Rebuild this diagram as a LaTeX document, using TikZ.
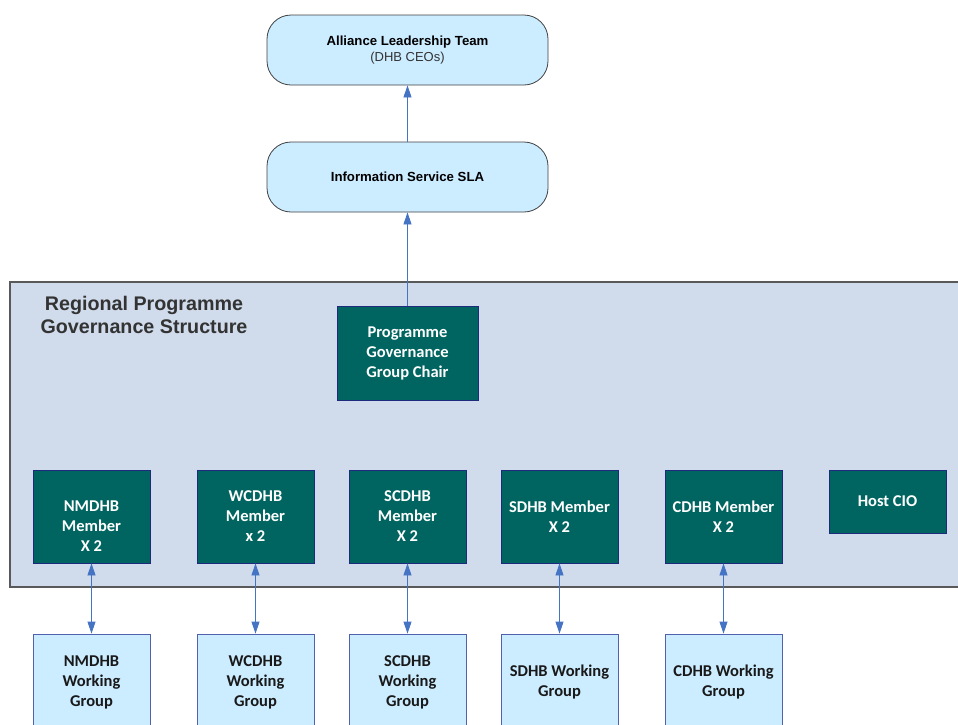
\documentclass[tikz,border=0pt]{standalone}
\usepackage{fontspec}
\setmainfont{Carlito}
\newfontfamily\arialfont{Liberation Sans}
\usetikzlibrary{arrows.meta}
\definecolor{govteal}{RGB}{0,101,96}
\definecolor{lightbox}{RGB}{204,236,255}
\definecolor{regionbg}{RGB}{208,219,236}
\definecolor{linkblue}{RGB}{70,116,196}
\definecolor{navyedge}{RGB}{30,42,125}
\definecolor{wgedge}{RGB}{82,96,176}
\begin{document}
\begin{tikzpicture}[x=1pt,y=-1pt,
    topbox/.style={draw=black!75,fill=lightbox,rounded corners=24pt,line width=0.8pt,
      minimum width=281pt,minimum height=70pt,align=center,font=\arialfont\fontsize{13.2}{16}\selectfont\bfseries},
    member/.style={draw=navyedge,fill=govteal,text=white,line width=0.8pt,inner sep=0pt,
      minimum width=117pt,minimum height=93pt,align=center,font=\fontsize{16.5}{20}\selectfont\bfseries},
    wgroup/.style={draw=wgedge,fill=lightbox,text=black!90,line width=0.8pt,inner sep=0pt,
      minimum width=117pt,minimum height=96pt,align=center,font=\fontsize{16.5}{20}\selectfont\bfseries},
    link/.style={draw=linkblue,line width=0.8pt,-{Triangle[width=8pt,length=12pt]}},
    duplex/.style={draw=linkblue,line width=0.8pt,{Triangle[width=8pt,length=12pt]}-{Triangle[width=8pt,length=12pt]}}]
  \useasboundingbox (0,0) rectangle (958,724);
  \clip (0,0) rectangle (958,724);
  \draw[fill=regionbg,draw=black!65,line width=1.2pt] (10,282) rectangle (980,587);
  \node[align=center,text=black!80,font=\arialfont\fontsize{19.7}{23}\selectfont\bfseries] (title) at (144,315)
    {Regional Programme\\Governance Structure};
  \node[topbox] (alt) at (407.5,50) {Alliance Leadership Team\\{\mdseries\fontsize{13}{16}\selectfont\color{black!80}(DHB CEOs)}};
  \node[topbox] (sla) at (407.5,177) {Information Service SLA};
  \node[member,minimum width=141pt,minimum height=94pt] (chair) at (407.5,353) {Programme\\Governance\\Group Chair};
  \node[member] (nm) at (91.5,516.5) {};
  \node[align=center,text=white,font=\fontsize{16.5}{20}\selectfont\bfseries] (nmtext) at (91.5,526) {NMDHB\\Member\\X 2};
  \node[member] (wc) at (255.5,516.5) {WCDHB\\Member\\x 2};
  \node[member] (sc) at (407.5,516.5) {SCDHB\\Member\\X 2};
  \node[member] (sd) at (559.5,516.5) {SDHB Member\\X 2};
  \node[member] (cd) at (723.5,516.5) {CDHB Member\\X 2};
  \node[member,minimum height=63pt] (host) at (887.5,501.5) {Host CIO};
  \node[wgroup] (nmwg) at (91.5,682) {NMDHB\\Working\\Group};
  \node[wgroup] (wcwg) at (255.5,682) {WCDHB\\Working\\Group};
  \node[wgroup] (scwg) at (407.5,682) {SCDHB\\Working\\Group};
  \node[wgroup] (sdwg) at (559.5,682) {SDHB Working\\Group};
  \node[wgroup] (cdwg) at (723.5,682) {CDHB Working\\Group};
  \draw[link] (sla) -- (alt);
  \draw[link] (chair) -- (sla);
  \draw[duplex] (nm) -- (nmwg);
  \draw[duplex] (wc) -- (wcwg);
  \draw[duplex] (sc) -- (scwg);
  \draw[duplex] (sd) -- (sdwg);
  \draw[duplex] (cd) -- (cdwg);
\end{tikzpicture}
\end{document}
